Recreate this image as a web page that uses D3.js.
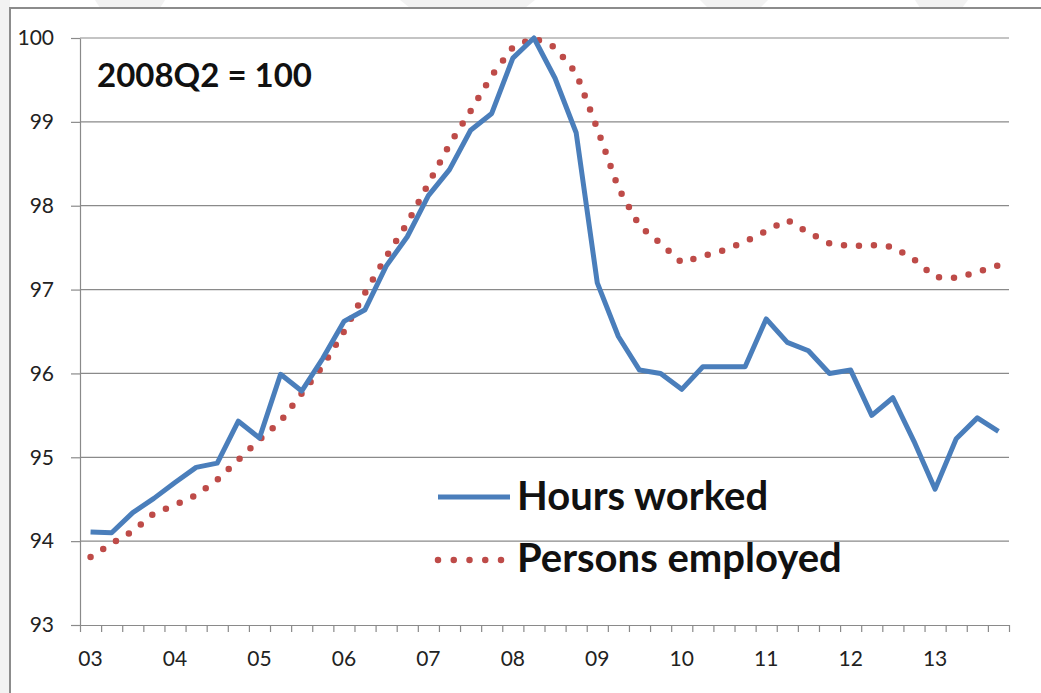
<!DOCTYPE html>
<html>
<head>
<meta charset="utf-8">
<script src="https://cdn.jsdelivr.net/npm/d3@7"></script>
<style>
  body { margin: 0; background: #fff; }
  svg { display: block; font-family: Lato, "Open Sans", sans-serif; }
</style>
</head>
<body>
<div id="chart"></div>
<script>
// quarterly index, 2008Q2 = 100
const years = ["03", "04", "05", "06", "07", "08", "09", "10", "11", "12", "13"];
const quarters = [];
years.forEach(yr => { for (let q = 1; q <= 4; q++) quarters.push(yr + "Q" + q); });

const hoursWorked = [94.11, 94.10, 94.34, 94.51, 94.70, 94.88, 94.93, 95.43, 95.23, 95.99,
  95.79, 96.18, 96.62, 96.76, 97.28, 97.63, 98.12, 98.43, 98.90, 99.10,
  99.76, 100.0, 99.52, 98.87, 97.08, 96.44, 96.04, 96.00, 95.81, 96.08,
  96.08, 96.08, 96.65, 96.37, 96.27, 96.00, 96.04, 95.50, 95.71, 95.19,
  94.62, 95.22, 95.47, 95.31];
const personsEmployed = [93.81, 93.97, 94.12, 94.33, 94.43, 94.55, 94.73, 94.97, 95.21, 95.43,
  95.76, 96.09, 96.50, 96.96, 97.39, 97.79, 98.26, 98.73, 99.13, 99.55,
  99.89, 100.0, 99.89, 99.58, 98.92, 98.21, 97.76, 97.55, 97.32, 97.40,
  97.47, 97.57, 97.70, 97.83, 97.68, 97.55, 97.52, 97.53, 97.51, 97.36,
  97.15, 97.14, 97.21, 97.29];
const yTicks = [93, 94, 95, 96, 97, 98, 99, 100];

const W = 1041, H = 693;
const plot = { left: 80, right: 1009, top: 38, bottom: 625 };
const blue = "#4a7ebb", red = "#be4b48", grid = "#8a8a8a";

const svg = d3.select("#chart").append("svg")
  .attr("width", W).attr("height", H);

// faint watermark shapes behind the frame
const wm = [
  [[0, 0], [10, 0], [10, 693], [0, 693]],
  [[95, 0], [165, 0], [160, 8], [100, 8]],
  [[400, 0], [535, 0], [525, 8], [410, 8]],
  [[700, 0], [768, 0], [760, 8], [708, 8]],
  [[915, 0], [968, 0], [962, 8], [920, 8]]
];
svg.selectAll(".wm").data(wm).enter().append("polygon")
  .attr("class", "wm")
  .attr("points", d => d.map(p => p.join(",")).join(" "))
  .attr("fill", "#f2f2f2");

// chart frame
svg.append("rect")
  .attr("x", 10).attr("y", 8).attr("width", W + 20).attr("height", H + 20)
  .attr("fill", "#fff").attr("stroke", "#8c8c8c").attr("stroke-width", 2);

const x = d3.scaleBand().domain(quarters).range([plot.left, plot.right]);
const xEdge = d3.scaleLinear().domain([0, quarters.length]).range([plot.left, plot.right]);
const y = d3.scaleLinear().domain([93, 100]).range([plot.bottom, plot.top]);
const cx = q => x(q) + x.bandwidth() / 2;

// gridlines
svg.append("g").selectAll("line")
  .data(yTicks.slice(1)).enter().append("line")
  .attr("x1", plot.left).attr("x2", plot.right)
  .attr("y1", d => y(d)).attr("y2", d => y(d))
  .attr("stroke", grid).attr("stroke-width", 1.2);

// y axis
const yAxis = svg.append("g")
  .attr("transform", "translate(" + plot.left + ",0)")
  .call(d3.axisLeft(y).tickValues(yTicks).tickFormat(d3.format("d"))
    .tickSize(9).tickPadding(17).tickSizeOuter(0));
yAxis.selectAll("line, path").attr("stroke", grid).attr("stroke-width", 1.2);
yAxis.selectAll("text").attr("font-size", 21).attr("fill", "#222")
  .attr("font-family", "Lato, sans-serif");

// x axis: tick marks at quarter edges, labels on Q1
const xTickAxis = svg.append("g")
  .attr("transform", "translate(0," + plot.bottom + ")")
  .call(d3.axisBottom(xEdge).tickValues(d3.range(quarters.length + 1)).tickFormat("").tickSize(7).tickSizeOuter(0));
xTickAxis.selectAll("line, path").attr("stroke", grid).attr("stroke-width", 1.2);

const xLabelAxis = svg.append("g")
  .attr("transform", "translate(0," + plot.bottom + ")")
  .call(d3.axisBottom(x).tickValues(quarters.filter(q => q.endsWith("Q1")))
    .tickFormat(q => q.slice(0, 2)).tickSize(0).tickPadding(26));
xLabelAxis.select("path").remove();
xLabelAxis.selectAll("text").attr("font-size", 21).attr("fill", "#222")
  .attr("font-family", "Lato, sans-serif");

// series
const line = d3.line().x((d, i) => cx(quarters[i])).y(d => y(d));

svg.append("path")
  .datum(personsEmployed)
  .attr("d", line)
  .attr("fill", "none")
  .attr("stroke", red)
  .attr("stroke-width", 6.5)
  .attr("stroke-linecap", "round")
  .attr("stroke-dasharray", "0 15");

svg.append("path")
  .datum(hoursWorked)
  .attr("d", line)
  .attr("fill", "none")
  .attr("stroke", blue)
  .attr("stroke-width", 5)
  .attr("stroke-linejoin", "round");

// note
svg.append("text")
  .attr("x", 97).attr("y", 87)
  .attr("font-size", 33).attr("font-weight", "bold").attr("fill", "#111")
  .text("2008Q2 = 100");

// legend
const legend = svg.append("g");
legend.append("line")
  .attr("x1", 438).attr("x2", 510).attr("y1", 497).attr("y2", 497)
  .attr("stroke", blue).attr("stroke-width", 5);
legend.append("line")
  .attr("x1", 438).attr("x2", 505).attr("y1", 560).attr("y2", 560)
  .attr("stroke", red).attr("stroke-width", 6.5)
  .attr("stroke-linecap", "round").attr("stroke-dasharray", "0 15.75");
legend.append("text")
  .attr("x", 517).attr("y", 510)
  .attr("font-size", 40).attr("font-weight", "bold").attr("fill", "#111")
  .text("Hours worked");
legend.append("text")
  .attr("x", 517).attr("y", 572)
  .attr("font-size", 40).attr("font-weight", "bold").attr("fill", "#111")
  .text("Persons employed");
</script>
</body>
</html>
